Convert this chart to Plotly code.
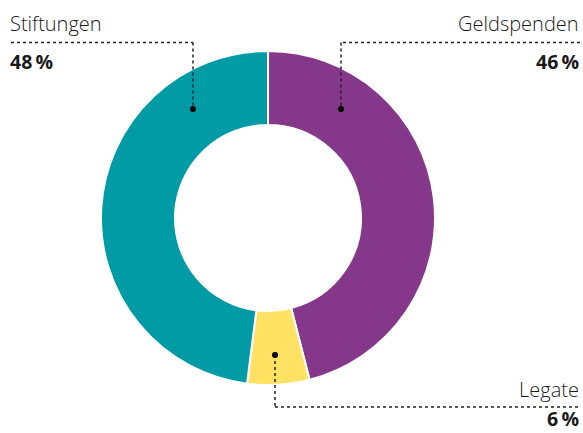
import plotly.graph_objects as go

W, H = 583, 433

labels = ["Geldspenden", "Legate", "Stiftungen"]
values = [46, 6, 48]
pct_labels = ["46\u2009%", "6\u2009%", "48\u2009%"]
colors = ["#85378A", "#FFE264", "#009BA4"]

# pie geometry (pixels)
cx, cy, R = 268, 218, 167
hole = 0.557

def px(x):
    return x / W

def py(y):
    return 1 - y / H

fig = go.Figure()
fig.add_trace(go.Pie(
    labels=labels, values=values, sort=False, direction="clockwise", rotation=0,
    hole=hole, textinfo="none", hoverinfo="label+percent",
    marker=dict(colors=colors, line=dict(color="white", width=2)),
    domain=dict(x=[px(cx - R), px(cx + R)], y=[py(cy + R), py(cy - R)]),
    showlegend=False,
))

TXT = "#1a1a1a"
LINE = "#222222"
shapes = []
annotations = []

def leader(points, dot):
    for (x0, y0), (x1, y1) in zip(points[:-1], points[1:]):
        shapes.append(dict(type="line", xref="paper", yref="paper",
                           x0=px(x0), y0=py(y0), x1=px(x1), y1=py(y1),
                           line=dict(color=LINE, width=1.5, dash="dot")))
    r = 3
    shapes.append(dict(type="circle", xref="paper", yref="paper",
                       x0=px(dot[0] - r), x1=px(dot[0] + r),
                       y0=py(dot[1] + r), y1=py(dot[1] - r),
                       fillcolor="black", line=dict(width=0)))

def label(text, x, y, anchor, bold=False, yanchor="middle"):
    annotations.append(dict(
        text=text, x=px(x), y=py(y), xref="paper", yref="paper",
        xanchor=anchor, yanchor=yanchor, showarrow=False, borderpad=0,
        font=dict(family="Open Sans", size=19.5 if bold else 20, color=TXT,
                  weight=700 if bold else 300)))

# Stiftungen (left)
leader([(11, 42.5), (193, 42.5), (193, 109)], (193, 109))
label(labels[2], 9, 24, "left")
label(pct_labels[2], 9, 62, "left", bold=True)

# Geldspenden (right)
leader([(580, 42.5), (341, 42.5), (341, 109)], (341, 109))
label(labels[0], 580, 24, "right")
label(pct_labels[0], 580, 62, "right", bold=True)

# Legate (bottom right)
leader([(275, 355), (275, 407), (580, 407)], (275, 355))
label(labels[1], 580, 389, "right")
label(pct_labels[1], 580, 433, "right", bold=True, yanchor="bottom")

fig.update_layout(width=W, height=H, margin=dict(l=0, r=0, t=0, b=0),
                  paper_bgcolor="white", plot_bgcolor="white",
                  shapes=shapes, annotations=annotations)

fig.write_html("out.html")
